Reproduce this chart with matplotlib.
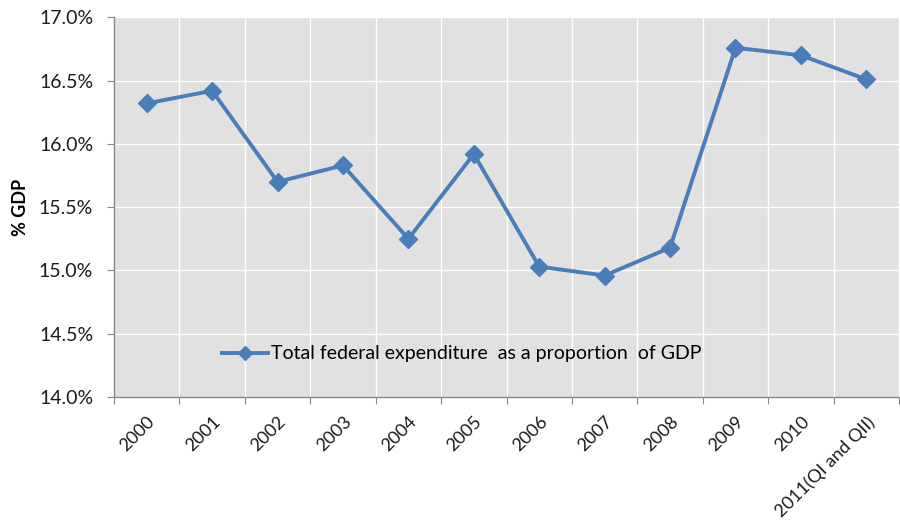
import matplotlib
matplotlib.use('Agg')
import matplotlib.pyplot as plt
import numpy as np

years = ['2000', '2001', '2002', '2003', '2004', '2005', '2006', '2007',
         '2008', '2009', '2010', '2011(QI and QII)']
expenditure = [16.32, 16.42, 15.70, 15.83, 15.25, 15.92, 15.03, 14.96,
               15.18, 16.76, 16.70, 16.51]
series_name = 'Total federal expenditure  as a proportion  of GDP'

plt.rcParams['font.family'] = ['Lato', 'DejaVu Sans']
blue = '#4a7ebb'
grey = '#868686'
fs = 14

fig = plt.figure(figsize=(9, 5.29), dpi=100)
ax = fig.add_axes([0.1267, 0.2495, 0.8722, 0.7177])
ax.set_facecolor('#e1e1e1')

x = np.arange(len(years))
ax.plot(x, expenditure, color=blue, linewidth=2.8, marker='D', markersize=9.5,
        label=series_name, zorder=3)

ax.set_xlim(-0.5, len(years) - 0.5)
ax.set_ylim(14.0, 17.0)

# category boundaries carry the ticks and grid, labels sit at the centres
ax.set_xticks(np.arange(len(years) + 1) - 0.5)
ax.set_xticklabels([])
ax.set_xticks(x, minor=True)
ax.set_xticklabels(years, minor=True, rotation=45, ha='right',
                   rotation_mode='anchor', fontsize=13, color='#1a1a1a')
ax.tick_params(axis='x', which='minor', length=0, pad=12)
ax.tick_params(axis='x', which='major', length=5, color=grey, direction='out')

yticks = np.arange(14.0, 17.01, 0.5)
ax.set_yticks(yticks)
ax.set_yticklabels([f'{v:.1f}%' for v in yticks], fontsize=fs, color='#1a1a1a')
ax.tick_params(axis='y', length=5, color=grey, direction='out', pad=10)

ax.grid(True, which='major', color='white', linewidth=1.0)
ax.set_axisbelow(True)

for side in ('top', 'right'):
    ax.spines[side].set_visible(False)
for side in ('left', 'bottom'):
    ax.spines[side].set_color(grey)
    ax.spines[side].set_linewidth(1.0)

ax.set_ylabel('% GDP', fontsize=13, fontweight='bold', labelpad=7)

ax.legend(loc='lower left', bbox_to_anchor=(0.115, 0.045), frameon=False,
          fontsize=fs, handlelength=2.4, handletextpad=0.15,
          markerscale=0.7)

fig.savefig('out.png', dpi=100)
